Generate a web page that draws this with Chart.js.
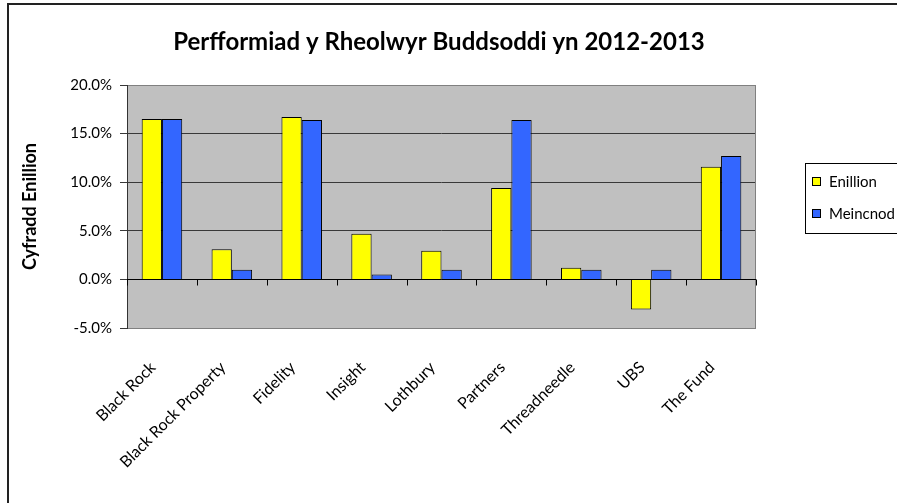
<!DOCTYPE html>
<html>
<head>
<meta charset="utf-8">
<script src="https://cdn.jsdelivr.net/npm/chart.js@4.4.0/dist/chart.umd.min.js"></script>
<style>
  body { margin: 0; background: #fff; }
  canvas { display: block; }
</style>
</head>
<body>
<canvas id="chart" width="897" height="503"></canvas>
<script>
const chartTitle = "Perfformiad y Rheolwyr Buddsoddi yn 2012-2013";
const yAxisTitle = "Cyfradd Enillion";
const categories = [
  "Black Rock",
  "Black Rock Property",
  "Fidelity",
  "Insight",
  "Lothbury",
  "Partners",
  "Threadneedle",
  "UBS",
  "The Fund",
];
const seriesNames = ["Enillion", "Meincnod"];
const enillion = [16.5, 3.1, 16.7, 4.7, 2.95, 9.4, 1.2, -3.1, 11.6];
const meincnod = [16.5, 1.0, 16.4, 0.5, 1.0, 16.4, 1.0, 1.0, 12.7];
const yMin = -5;
const yMax = 20;
const yStep = 5;

const FONT = "Lato, 'Open Sans', sans-serif";

// Excel-ish extras: grey plot background, zero line with category ticks,
// outer frame, centered title and boxed legend on the right
const excelLook = {
  id: "excelLook",
  beforeDraw(chart) {
    const { ctx, chartArea: a } = chart;
    ctx.save();
    ctx.fillStyle = "#C0C0C0";
    ctx.fillRect(a.left, a.top, a.right - a.left, a.bottom - a.top);
    ctx.restore();
  },
  afterDatasetsDraw(chart) {
    const { ctx, chartArea: a, scales } = chart;
    const x = scales.x;
    const y0 = Math.round(scales.y.getPixelForValue(0)) + 0.5;
    ctx.save();
    // plot border
    ctx.strokeStyle = "#808080";
    ctx.lineWidth = 1;
    ctx.strokeRect(a.left + 0.5, a.top + 0.5, a.right - a.left - 1, a.bottom - a.top);
    // y axis line
    ctx.strokeStyle = "#333";
    ctx.beginPath();
    ctx.moveTo(a.left + 0.5, a.top);
    ctx.lineTo(a.left + 0.5, a.bottom + 1);
    ctx.stroke();
    // zero line with category ticks
    ctx.strokeStyle = "#000";
    ctx.beginPath();
    ctx.moveTo(a.left, y0);
    ctx.lineTo(a.right, y0);
    const half = (x.getPixelForValue(1) - x.getPixelForValue(0)) / 2;
    for (let i = 0; i <= categories.length; i++) {
      const px = Math.round(x.getPixelForValue(i) - half) + 0.5;
      ctx.moveTo(px, y0);
      ctx.lineTo(px, y0 + 6);
    }
    ctx.stroke();
    ctx.restore();
  },
  afterDraw(chart) {
    const { ctx } = chart;
    ctx.save();
    // outer frame (left and top edges visible)
    ctx.strokeStyle = "#222";
    ctx.lineWidth = 2;
    ctx.beginPath();
    ctx.moveTo(8, 504);
    ctx.lineTo(8, 4);
    ctx.lineTo(898, 4);
    ctx.stroke();

    // title
    ctx.fillStyle = "#000";
    ctx.font = "bold 24px " + FONT;
    ctx.textAlign = "center";
    ctx.textBaseline = "alphabetic";
    ctx.fillText(chartTitle, 439, 50);

    // legend
    ctx.lineWidth = 1;
    ctx.strokeStyle = "#000";
    ctx.strokeRect(805.5, 163.5, 100, 70);
    ctx.font = "15px " + FONT;
    ctx.textAlign = "left";
    ctx.textBaseline = "middle";
    chart.data.datasets.forEach((ds, i) => {
      const cy = 181 + i * 32;
      ctx.fillStyle = ds.backgroundColor;
      ctx.fillRect(812, cy - 4, 9, 9);
      ctx.strokeRect(812.5, cy - 3.5, 8, 8);
      ctx.fillStyle = "#000";
      ctx.fillText(ds.label, 829, cy + 1);
    });
    ctx.restore();
  },
};

new Chart(document.getElementById("chart"), {
  type: "bar",
  data: {
    labels: categories,
    datasets: [
      {
        label: seriesNames[0],
        data: enillion,
        backgroundColor: "#FFFF00",
        borderColor: "#000",
        borderWidth: 1,
      },
      {
        label: seriesNames[1],
        data: meincnod,
        backgroundColor: "#3366FF",
        borderColor: "#000",
        borderWidth: 1,
      },
    ],
  },
  options: {
    responsive: false,
    animation: false,
    layout: { padding: { top: 85, left: 0, right: 141, bottom: 0 } },
    datasets: { bar: { categoryPercentage: 0.58, barPercentage: 1 } },
    plugins: {
      legend: { display: false },
      title: { display: false },
      tooltip: { enabled: false },
    },
    scales: {
      x: {
        grid: { display: false },
        border: { display: false },
        ticks: {
          color: "#000",
          font: { family: FONT, size: 16 },
          minRotation: 45,
          maxRotation: 45,
          padding: 22,
          labelOffset: -9,
          autoSkip: false,
        },
        afterFit: (scale) => {
          scale.height = 175;
        },
      },
      y: {
        min: yMin,
        max: yMax,
        ticks: {
          stepSize: yStep,
          color: "#000",
          font: { family: FONT, size: 15 },
          padding: 8,
          callback: (v) => v.toFixed(1) + "%",
        },
        grid: {
          color: "#383838",
          tickLength: 7,
          drawOnChartArea: true,
        },
        border: { display: false },
        title: {
          display: true,
          text: yAxisTitle,
          color: "#000",
          font: { family: FONT, size: 18, weight: "bold" },
          padding: { top: 19 },
        },
        afterFit: (scale) => {
          scale.width = 127;
        },
      },
    },
  },
  plugins: [excelLook],
});
</script>
</body>
</html>
